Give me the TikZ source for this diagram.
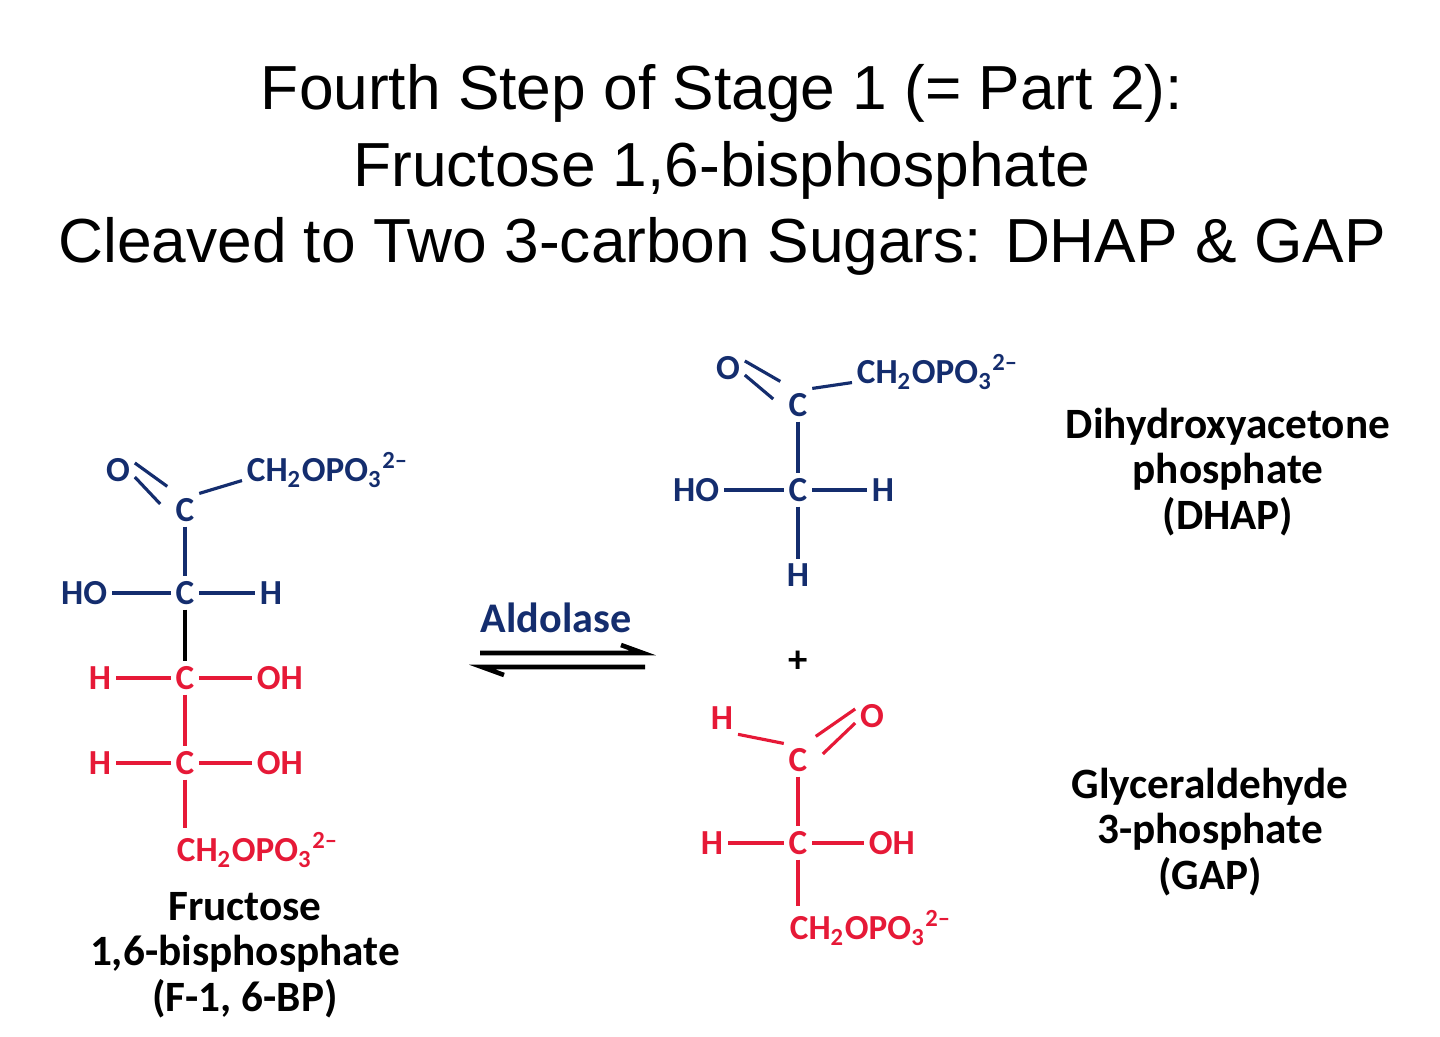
\documentclass[tikz,border=0pt]{standalone}
\usepackage{fontspec}
\setmainfont{Liberation Sans}
\newfontfamily\chemfont[Ligatures=TeX]{Carlito}
\usepackage{tikz}
\usetikzlibrary{arrows.meta}

\definecolor{navy}{RGB}{20,45,110}
\definecolor{chemred}{RGB}{230,25,55}

\newcommand{\phos}{CH\textsubscript{2}OPO\textsubscript{3}\textsuperscript{2\textendash}}

\tikzset{
  atom/.style={inner sep=1.2pt, font=\chemfont\bfseries\fontsize{10}{12}\selectfont},
  blueatom/.style={atom, text=navy},
  redatom/.style={atom, text=chemred},
  molname/.style={font=\chemfont\bfseries\fontsize{12.3}{13}\selectfont, align=center},
  bond/.style={line width=0.9pt},
}

\begin{document}
\begin{tikzpicture}[x=0.01cm,y=-0.01cm]
\useasboundingbox (0,0) rectangle (1440,1036);

% title
\node (title) at (722,170) [align=center, font=\fontsize{17.7}{21.8}\selectfont]
  {Fourth Step of Stage 1 (= Part 2):\\Fructose 1,6-bisphosphate\\Cleaved to Two 3-carbon Sugars: DHAP \& GAP};

% fructose 1,6-bisphosphate
\node[blueatom] (f1) at (185,510) {C};
\node[blueatom] (fo) at (118,470) {O};
\node[blueatom, anchor=west] (fp1) at (242,470) {\phos};
\node[blueatom] (f2) at (185,593) {C};
\node[blueatom, anchor=east] (fho) at (112,593) {HO};
\node[blueatom, anchor=west] (fh2) at (255,593) {H};
\node[redatom] (f3) at (185,678) {C};
\node[redatom, anchor=east] (fh3) at (116,678) {H};
\node[redatom, anchor=west] (foh3) at (252,678) {OH};
\node[redatom] (f4) at (185,763) {C};
\node[redatom, anchor=east] (fh4) at (116,763) {H};
\node[redatom, anchor=west] (foh4) at (252,763) {OH};
\node[redatom, anchor=west] (fp6) at (172,850) {\phos};

\draw[bond, navy] ([yshift=2pt]fo.east) -- ([xshift=-1pt,yshift=2pt]f1.north west);
\draw[bond, navy] ([yshift=-2pt]fo.east) -- ([xshift=-3pt,yshift=-3pt]f1.north west);
\draw[bond, navy] (f1.north east) -- ([yshift=-3pt]fp1.west);
\draw[bond, navy] (f1) -- (f2) (fho) -- (f2) -- (fh2);
\draw[bond, black] (f2) -- (f3);
\draw[bond, chemred] (fh3) -- (f3) -- (foh3) (f3) -- (f4) (fh4) -- (f4) -- (foh4);
\draw[bond, chemred] (f4) -- (f4 |- fp6.north);

\node[molname] (fname) at (245,955) {Fructose\\1,6-bisphosphate\\(F-1, 6-BP)};

% enzyme and equilibrium arrows
\node[blueatom, font=\chemfont\bfseries\fontsize{12}{14}\selectfont] (enz) at (556,618) {Aldolase};
\coordinate (ar1) at (480,653);
\coordinate (ar2) at (643,653);
\coordinate (al1) at (645,667);
\coordinate (al2) at (482,667);
\draw[line width=1.3pt] (ar1) -- (ar2) -- ++(-22,-8);
\draw[line width=1.3pt] (al1) -- (al2) -- ++(22,8);

% DHAP
\node[blueatom] (d1) at (798,405) {C};
\node[blueatom] (do) at (728,368) {O};
\node[blueatom, anchor=west] (dp) at (852,372) {\phos};
\node[blueatom] (d2) at (798,490) {C};
\node[blueatom, anchor=east] (dho) at (724,490) {HO};
\node[blueatom, anchor=west] (dh2) at (867,490) {H};
\node[blueatom] (dh3) at (798,575) {H};
\draw[bond, navy] ([yshift=2pt]do.east) -- ([xshift=-1pt,yshift=2pt]d1.north west);
\draw[bond, navy] ([yshift=-2pt]do.east) -- ([xshift=-3pt,yshift=-3pt]d1.north west);
\draw[bond, navy] (d1.north east) -- ([yshift=-3pt]dp.west);
\draw[bond, navy] (d1) -- (d2) -- (dh3) (dho) -- (d2) -- (dh2);
\node[molname] (dname) at (1228,472) {Dihydroxyacetone\\phosphate\\(DHAP)};

\node[font=\chemfont\bfseries\fontsize{11}{12}\selectfont] (plus) at (798,662) {+};

% GAP
\node[redatom] (g1) at (798,760) {C};
\node[redatom] (gh1) at (722,718) {H};
\node[redatom] (go) at (872,716) {O};
\node[redatom] (g2) at (798,843) {C};
\node[redatom, anchor=east] (gh2) at (728,843) {H};
\node[redatom, anchor=west] (goh) at (864,843) {OH};
\node[redatom, anchor=west] (gp) at (785,928) {\phos};
\draw[bond, chemred] (gh1.south east) -- (g1.north west);
\draw[bond, chemred] ([xshift=1pt,yshift=2pt]g1.north east) -- ([yshift=2pt]go.west);
\draw[bond, chemred] ([xshift=3pt,yshift=-3pt]g1.north east) -- ([yshift=-2pt]go.west);
\draw[bond, chemred] (g1) -- (g2) (gh2) -- (g2) -- (goh);
\draw[bond, chemred] (g2) -- (g2 |- gp.north);
\node[molname] (gname) at (1210,832) {Glyceraldehyde\\3-phosphate\\(GAP)};
\end{tikzpicture}
\end{document}
